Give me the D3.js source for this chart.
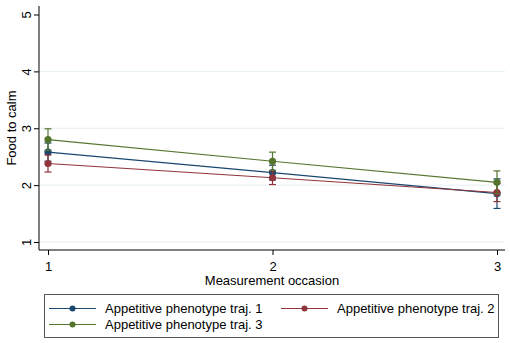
<!DOCTYPE html>
<html><head><meta charset="utf-8">
<script src="https://cdn.jsdelivr.net/npm/d3@7"></script>
<style>body{margin:0;background:#fff}svg{display:block;font-family:"Liberation Sans",Arial,sans-serif}</style>
</head><body><svg id="c" width="510" height="343"></svg>
<script>
const occasions = [1, 2, 3];
const yTicks = [1, 2, 3, 4, 5];
const seriesNames = ["Appetitive phenotype traj. 1", "Appetitive phenotype traj. 2", "Appetitive phenotype traj. 3"];
const seriesColors = ["#1a476f", "#90353b", "#55752f"];
const traj1 = [2.58, 2.22, 1.85];
const traj1Lo = [2.42, 2.09, 1.59];
const traj1Hi = [2.74, 2.35, 2.11];
const traj2 = [2.38, 2.13, 1.87];
const traj2Lo = [2.23, 2.01, 1.71];
const traj2Hi = [2.53, 2.25, 2.03];
const traj3 = [2.80, 2.42, 2.05];
const traj3Lo = [2.61, 2.26, 1.85];
const traj3Hi = [2.99, 2.58, 2.25];

const series = [
  {name: seriesNames[0], color: seriesColors[0], v: traj1, lo: traj1Lo, hi: traj1Hi},
  {name: seriesNames[1], color: seriesColors[1], v: traj2, lo: traj2Lo, hi: traj2Hi},
  {name: seriesNames[2], color: seriesColors[2], v: traj3, lo: traj3Lo, hi: traj3Hi}
];

const FS = 13;
const svg = d3.select("#c");
const x = d3.scaleLinear().domain([1, 3]).range([48, 497]);
const y = d3.scaleLinear().domain([1, 5]).range([242, 14.5]);
const axL = 39, axB = 250, axT = 6, axR = 505;

// gridlines
svg.append("g").selectAll("line").data(yTicks.filter(d => d < 5)).join("line")
  .attr("x1", axL + 1).attr("x2", axR).attr("y1", d => y(d)).attr("y2", d => y(d))
  .attr("stroke", "#e6eef1").attr("stroke-width", 1);

// y axis
const yAxis = d3.axisLeft(y).tickValues(yTicks).tickSize(5).tickPadding(6).tickFormat(d3.format("d"));
const gy = svg.append("g").attr("transform", `translate(${axL},0)`).call(yAxis);
gy.select(".domain").remove();
gy.append("line").attr("x1", 0).attr("x2", 0).attr("y1", axT).attr("y2", axB).attr("stroke", "#000");
gy.selectAll(".tick line").attr("stroke", "#000");
gy.selectAll(".tick text").attr("font-size", FS).attr("fill", "#000")
  .attr("transform", "translate(-8,0) rotate(-90)")
  .attr("x", 0).attr("y", 0).attr("dy", 0).attr("text-anchor", "middle");
gy.attr("font-family", null);

// x axis
const xAxis = d3.axisBottom(x).tickValues(occasions).tickSize(5).tickPadding(7).tickFormat(d3.format("d"));
const gx = svg.append("g").attr("transform", `translate(0,${axB})`).call(xAxis);
gx.select(".domain").remove();
gx.append("line").attr("x1", axL).attr("x2", axR).attr("y1", 0).attr("y2", 0).attr("stroke", "#000");
gx.selectAll(".tick text").attr("font-size", FS).attr("fill", "#000");
gx.attr("font-family", null);

// titles
svg.append("text").attr("x", 272).attr("y", 285).attr("text-anchor", "middle").attr("font-size", FS).text("Measurement occasion");
svg.append("text").attr("transform", "translate(16,128) rotate(-90)").attr("text-anchor", "middle").attr("font-size", FS).text("Food to calm");

// series
const line = d3.line().x((d, i) => x(occasions[i])).y(d => y(d));
series.forEach(s => {
  const g = svg.append("g");
  g.append("path").attr("d", line(s.v)).attr("fill", "none").attr("stroke", s.color).attr("stroke-width", 1.2);
  occasions.forEach((o, i) => {
    g.append("line").attr("x1", x(o)).attr("x2", x(o)).attr("y1", y(s.lo[i])).attr("y2", y(s.hi[i])).attr("stroke", s.color).attr("stroke-width", 1.2);
    [s.lo[i], s.hi[i]].forEach(e => g.append("line").attr("x1", x(o) - 3.5).attr("x2", x(o) + 3.5).attr("y1", y(e)).attr("y2", y(e)).attr("stroke", s.color).attr("stroke-width", 1.2));
  });
  g.selectAll("circle").data(s.v).join("circle").attr("cx", (d, i) => x(occasions[i])).attr("cy", d => y(d)).attr("r", 3.6).attr("fill", s.color);
});

// legend
const lg = svg.append("g");
lg.append("rect").attr("x", 44.5).attr("y", 294.5).attr("width", 454).attr("height", 43).attr("fill", "#fff").attr("stroke", "#555").attr("stroke-width", 1);
const pos = [[49, 313], [281, 313], [49, 329]];
series.forEach((s, i) => {
  const [lx, ly] = pos[i];
  const cy = ly - 4.5;
  lg.append("line").attr("x1", lx).attr("x2", lx + 47).attr("y1", cy).attr("y2", cy).attr("stroke", s.color).attr("stroke-width", 1.2);
  lg.append("circle").attr("cx", lx + 23.5).attr("cy", cy).attr("r", 3).attr("fill", s.color);
  lg.append("text").attr("x", lx + 56).attr("y", ly).attr("font-size", FS).text(s.name);
});
</script></body></html>
